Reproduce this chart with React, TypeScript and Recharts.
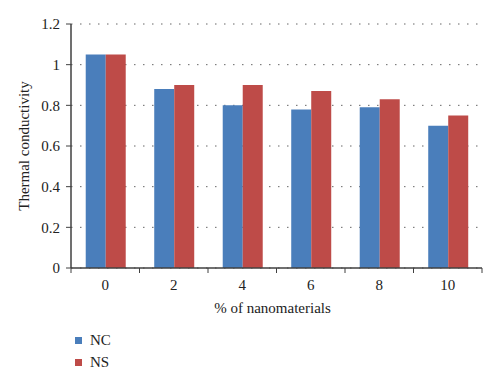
import { BarChart, Bar, XAxis, YAxis, CartesianGrid, Legend } from 'recharts'

const categories = ['0', '2', '4', '6', '8', '10']
const ncValues = [1.05, 0.88, 0.8, 0.78, 0.79, 0.7]
const nsValues = [1.05, 0.9, 0.9, 0.87, 0.83, 0.75]
const yTicks = [0, 0.2, 0.4, 0.6, 0.8, 1, 1.2]

const seriesNames = ['NC', 'NS']
const colors = ['#4a7ebb', '#be4b48']

const data = categories.map((c, i) => ({ pct: c, NC: ncValues[i], NS: nsValues[i] }))

const FONT = '"Liberation Serif", "Times New Roman", serif'
const AXIS = '#404040'
const TICK_SIZE = 6
const TICK_MARGIN = 5

// category label in the middle, tick marks on the band edges (Excel style)
const EdgeTick = ({ x, y, payload, index, visibleTicksCount }: any) => {
  const half = payload?.offset || 411 / 12
  const axisY = y - TICK_SIZE - TICK_MARGIN
  const last = index === (visibleTicksCount ?? categories.length) - 1
  return (
    <g>
      <line x1={x - half} x2={x - half} y1={axisY} y2={axisY + 5} stroke={AXIS} />
      {last && <line x1={x + half} x2={x + half} y1={axisY} y2={axisY + 5} stroke={AXIS} />}
      <text x={x} y={y} dy="0.71em" textAnchor="middle" fill="#222" fontSize={15} fontFamily={FONT}>
        {payload.value}
      </text>
    </g>
  )
}

const LegendBox = () => (
  <div style={{ paddingLeft: 75, fontFamily: FONT, fontSize: 15, color: '#222' }}>
    {seriesNames.map((n, i) => (
      <div key={n} style={{ display: 'flex', alignItems: 'center', height: 22 }}>
        <span style={{ display: 'inline-block', width: 7, height: 7, background: colors[i], marginRight: 8 }} />
        <span>{n}</span>
      </div>
    ))}
  </div>
)

export default function App() {
  return (
    <div style={{ position: 'absolute', left: 0, top: 0, width: 500, height: 383, background: '#fff' }}>
      <BarChart width={500} height={383} data={data} margin={{ top: 24, right: 18, left: 0, bottom: 10 }}
        barCategoryGap="21.5%" barGap={0}>
        <CartesianGrid vertical={false} stroke="#666" strokeDasharray="1.5 7.5" />
        <XAxis dataKey="pct" height={61} tickLine={false} tickSize={TICK_SIZE} tickMargin={TICK_MARGIN}
          axisLine={{ stroke: AXIS, strokeWidth: 1.5 }} tick={<EdgeTick />} interval={0}
          label={{ value: '% of nanomaterials', position: 'insideBottom', offset: 16, dx: -4, fill: '#222', fontSize: 15, fontFamily: FONT }} />
        <YAxis width={71} domain={[0, 1.2]} ticks={yTicks} tickSize={5} tickMargin={6}
          axisLine={{ stroke: AXIS, strokeWidth: 1.5 }} tickLine={{ stroke: AXIS }}
          tick={{ fill: '#222', fontSize: 15, fontFamily: FONT }}
          label={{ value: 'Thermal conductivity', angle: -90, position: 'center', dx: -12, fill: '#222', fontSize: 15, fontFamily: FONT }} />
        <Legend verticalAlign="bottom" align="left" content={<LegendBox />} />
        <Bar dataKey="NC" fill={colors[0]} isAnimationActive={false} />
        <Bar dataKey="NS" fill={colors[1]} isAnimationActive={false} />
      </BarChart>
    </div>
  )
}
